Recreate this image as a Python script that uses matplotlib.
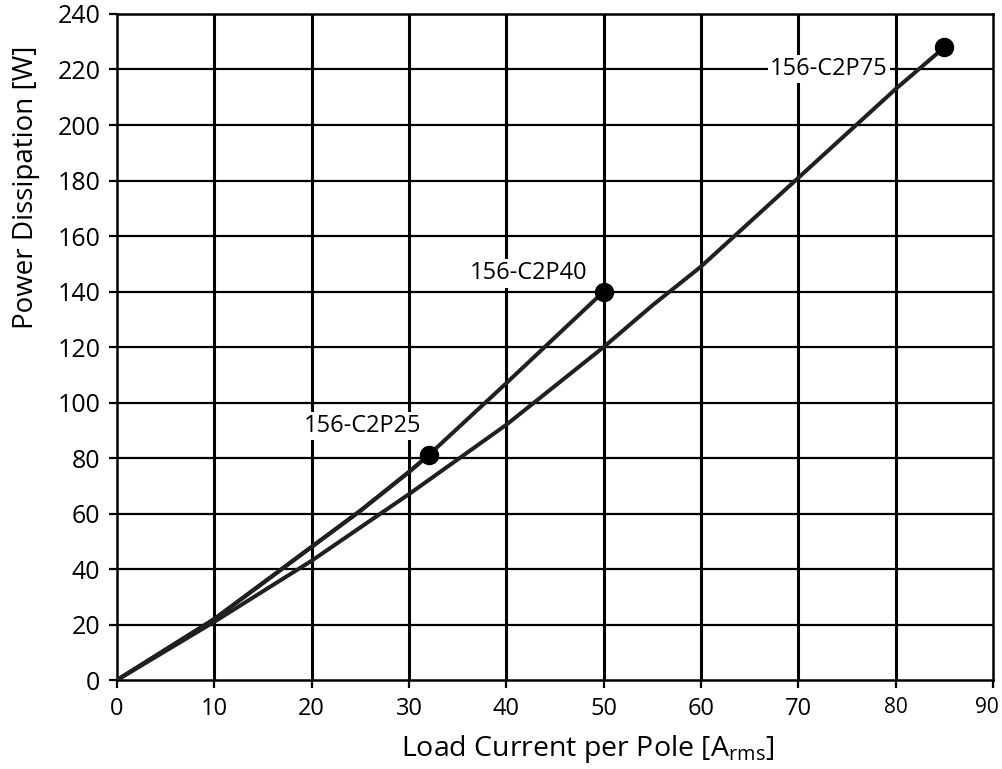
import matplotlib.pyplot as plt
from matplotlib.transforms import ScaledTranslation

plt.rcParams['font.family'] = ['Open Sans', 'DejaVu Sans']
plt.rcParams['mathtext.fontset'] = 'custom'
plt.rcParams['mathtext.rm'] = 'Open Sans'

# C2P25 and C2P40 share the same curve, C2P25 just stops earlier
c2p40_x = [0, 10, 20, 25, 30, 32, 40, 50]
c2p40_y = [0, 22, 48, 61, 75, 81, 107, 140]
c2p25_x = [0, 10, 20, 25, 30, 32]
c2p25_y = [0, 22, 48, 61, 75, 81]
c2p75_x = [0, 10, 20, 30, 40, 50, 55, 60, 70, 80, 85]
c2p75_y = [0, 21, 43, 67, 92, 120, 135, 149, 181, 213, 228]

labels = ['156-C2P25', '156-C2P40', '156-C2P75']
label_pos = [(25.2, 91.5), (42.3, 146.5), (73.1, 220.2)]

xticks = [0, 10, 20, 30, 40, 50, 60, 70, 80, 90]
yticks = list(range(0, 241, 20))

line_col = '#231f20'

fig = plt.figure(figsize=(10.02, 7.69), dpi=100)
ax = fig.add_axes([0.1168, 0.1157, 0.8743, 0.8661])

for x in xticks[1:-1]:
    ax.axvline(x, color='black', lw=2.2, zorder=1)
for y in yticks[1:-1]:
    ax.axhline(y, color='black', lw=1.6, zorder=1)

ax.plot(c2p75_x, c2p75_y, color=line_col, lw=2.9, zorder=3)
ax.plot(c2p40_x, c2p40_y, color=line_col, lw=2.9, zorder=3)
ax.plot(c2p25_x, c2p25_y, color=line_col, lw=2.9, zorder=3)

ends_x = [c2p25_x[-1], c2p40_x[-1], c2p75_x[-1]]
ends_y = [c2p25_y[-1], c2p40_y[-1], c2p75_y[-1]]
ax.plot(ends_x, ends_y, 'o', color='black', markersize=13, zorder=4)

for lab, (lx, ly) in zip(labels, label_pos):
    ax.text(lx, ly, lab, fontsize=17, ha='center', va='center', zorder=5,
            bbox=dict(facecolor='white', edgecolor='none', pad=1.5))

ax.set_xlim(0, 90)
ax.set_ylim(0, 240)
ax.set_xticks(xticks)
ax.set_yticks(yticks)
ax.tick_params(direction='out', length=6, width=1.6, labelsize=17, pad=6)
for t in ax.get_xticklabels():
    if t.get_text() in ('80', '90'):
        t.set_fontsize(15)
    if t.get_text() == '90':
        t.set_transform(t.get_transform() + ScaledTranslation(-6 / 100, 0, fig.dpi_scale_trans))
for t in ax.get_yticklabels():
    t.set_fontsize(18)

for s in ax.spines.values():
    s.set_linewidth(1.8)

ax.set_xlabel(r'Load Current per Pole [A$_{\mathregular{rms}}$]', fontsize=20.5)
ax.set_ylabel('Power Dissipation [W]', fontsize=20)
ax.xaxis.set_label_coords(0.537, -0.079)
ax.yaxis.set_label_coords(-0.088, 0.74)

fig.savefig('out.png', dpi=100)
